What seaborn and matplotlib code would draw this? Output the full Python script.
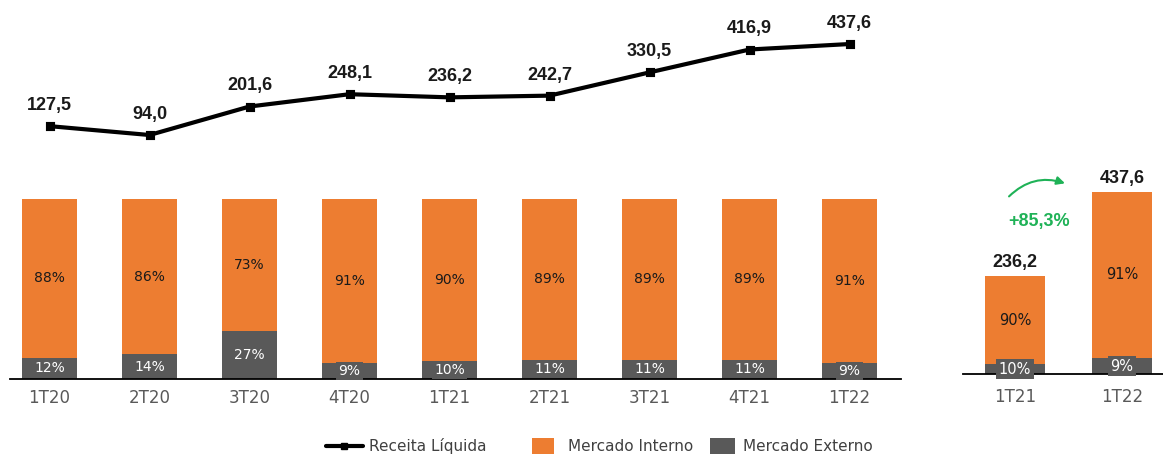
import matplotlib
matplotlib.use("Agg")
import matplotlib.pyplot as plt
from matplotlib.lines import Line2D
from matplotlib.patches import Patch
import seaborn as sns

# ---------------- data ----------------
quarters = ["1T20", "2T20", "3T20", "4T20", "1T21", "2T21", "3T21", "4T21", "1T22"]
receita = [127.5, 94.0, 201.6, 248.1, 236.2, 242.7, 330.5, 416.9, 437.6]
mercado_interno = [88, 86, 73, 91, 90, 89, 89, 89, 91]
mercado_externo = [12, 14, 27, 9, 10, 11, 11, 11, 9]

comp_quarters = ["1T21", "1T22"]
comp_receita = [236.2, 437.6]
comp_interno = [90, 91]
comp_externo = [10, 9]
growth_label = "+85,3%"

legend_labels = ["Receita Líquida", "Mercado Interno", "Mercado Externo"]

# ---------------- style ----------------
ORANGE = "#ED7D31"
GRAY = "#595959"
GREEN = "#1fb257"
DARK = "#1a1a1a"
TICK = "#595959"

sns.set_style("white")
plt.rcParams["font.family"] = ["DejaVu Sans"]
plt.rcParams["patch.force_edgecolor"] = False
BOLD_FAM = ["Liberation Sans", "DejaVu Sans"]


def fmt(v):
    return f"{v:.1f}".replace(".", ",")


W, H = 1163, 454
fig = plt.figure(figsize=(W / 100, H / 100), dpi=100)


def box(x0, y_top, x1, y_bottom):
    return [x0 / W, 1 - y_bottom / H, (x1 - x0) / W, (y_bottom - y_top) / H]


ax_bar = fig.add_axes(box(10, 199.3, 901, 379.3))
ax_line = fig.add_axes(box(10, 0, 901, 159.9))
ax_cmp = fig.add_axes(box(962.7, 165.7, 1163, 374.3))
for a in (ax_bar, ax_line, ax_cmp):
    a.patch.set_alpha(0)

bar_kw = dict(saturation=1, errorbar=None, linewidth=0, edgecolor="none")

# ---------------- left: 100% stacked bars ----------------
total = [i + e for i, e in zip(mercado_interno, mercado_externo)]
sns.barplot(x=quarters, y=total, color=ORANGE, width=0.555, ax=ax_bar, **bar_kw)
sns.barplot(x=quarters, y=mercado_externo, color=GRAY, width=0.555, ax=ax_bar, **bar_kw)
ax_bar.set_xlim(-0.395, 8.515)
ax_bar.set_ylim(0, 100)
for k, (mi, me) in enumerate(zip(mercado_interno, mercado_externo)):
    ax_bar.text(k, me + mi / 2, f"{mi}%", ha="center", va="center",
                fontsize=10, color=DARK)
    ax_bar.text(k, me / 2, f"{me}%", ha="center", va="center", fontsize=10,
                color="white", zorder=6,
                bbox=dict(boxstyle="square,pad=0.15", fc=GRAY, ec="none"))

for s in ("top", "left", "right"):
    ax_bar.spines[s].set_visible(False)
ax_bar.spines["bottom"].set_color("black")
ax_bar.spines["bottom"].set_linewidth(1.3)
ax_bar.set_yticks([])
ax_bar.set_xlabel("")
ax_bar.set_ylabel("")
ax_bar.tick_params(axis="x", length=0, pad=7, labelsize=12, labelcolor=TICK)

# ---------------- left: revenue line ----------------
sns.pointplot(x=quarters, y=receita, color="black", markers="s", markersize=5,
              linewidth=3, errorbar=None, ax=ax_line)
ax_line.set_xlim(-0.395, 8.515)
ax_line.set_ylim(0, 603.9)
ax_line.axis("off")
for k, v in enumerate(receita):
    ax_line.annotate(fmt(v), (k, v), xytext=(0, 14.8), textcoords="offset points",
                     ha="center", va="center", fontsize=13, fontweight="bold",
                     family=BOLD_FAM, color=DARK)

# ---------------- right: comparison ----------------
comp_ext_val = [r * e / 100 for r, e in zip(comp_receita, comp_externo)]
sns.barplot(x=comp_quarters, y=comp_receita, color=ORANGE, width=0.56, ax=ax_cmp, **bar_kw)
sns.barplot(x=comp_quarters, y=comp_ext_val, color=GRAY, width=0.56, ax=ax_cmp, **bar_kw)
ax_cmp.set_xlim(-0.489, 1.383)
ax_cmp.set_ylim(0, 500)
for k, (r, ev, mi, me) in enumerate(zip(comp_receita, comp_ext_val, comp_interno, comp_externo)):
    ax_cmp.annotate(fmt(r), (k, r), xytext=(0, 9.5), textcoords="offset points",
                    ha="center", va="center", fontsize=13, fontweight="bold",
                    family=BOLD_FAM, color=DARK)
    ax_cmp.text(k, ev + (r - ev) / 2, f"{mi}%", ha="center", va="center",
                fontsize=10.5, color=DARK)
    ax_cmp.text(k, ev / 2, f"{me}%", ha="center", va="center", fontsize=10.5,
                color="white", zorder=6,
                bbox=dict(boxstyle="square,pad=0.18", fc=GRAY, ec="none"))

ax_cmp.annotate("", xy=(0.467, 457.7), xytext=(-0.056, 426.4),
                arrowprops=dict(arrowstyle="-|>", color=GREEN, lw=1.5,
                                connectionstyle="arc3,rad=-0.3", mutation_scale=12,
                                shrinkA=0, shrinkB=0))
ax_cmp.text(0.224, 365.7, growth_label, ha="center", va="center", fontsize=13,
            fontweight="bold", family=BOLD_FAM, color=GREEN)

for s in ("top", "left", "right"):
    ax_cmp.spines[s].set_visible(False)
ax_cmp.spines["bottom"].set_color("black")
ax_cmp.spines["bottom"].set_linewidth(1.3)
ax_cmp.set_yticks([])
ax_cmp.set_xlabel("")
ax_cmp.set_ylabel("")
ax_cmp.tick_params(axis="x", length=0, pad=10, labelsize=12, labelcolor=TICK)

# ---------------- legend ----------------
ly = 1 - 446 / H
common = dict(loc="center left", frameon=False, fontsize=11, borderpad=0,
              borderaxespad=0, labelcolor="#404040")
h_line = Line2D([], [], color="black", lw=3, marker="s", markersize=5)
fig.legend(handles=[h_line], labels=[legend_labels[0]], bbox_to_anchor=(326 / W, ly),
           handlelength=2.4, handletextpad=0.4, **common)
fig.legend(handles=[Patch(facecolor=ORANGE, edgecolor="none")], labels=[legend_labels[1]],
           bbox_to_anchor=(531.5 / W, ly), handlelength=1.5, handleheight=1.3,
           handletextpad=0.9, **common)
fig.legend(handles=[Patch(facecolor=GRAY, edgecolor="none")], labels=[legend_labels[2]],
           bbox_to_anchor=(709.5 / W, ly), handlelength=1.7, handleheight=1.3,
           handletextpad=0.5, **common)

fig.savefig("out.png", dpi=100)
